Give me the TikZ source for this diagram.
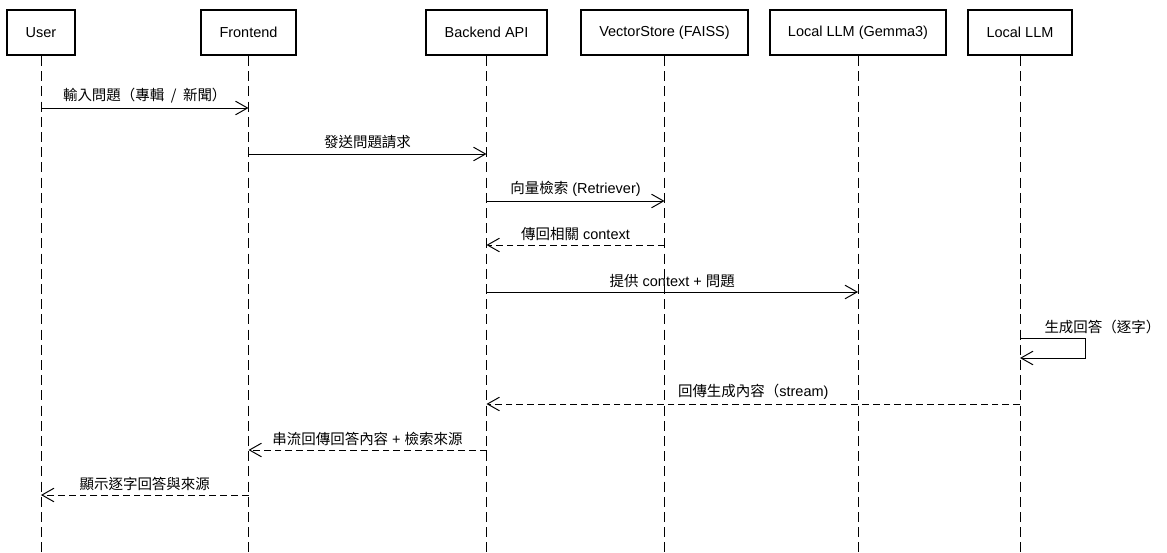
\documentclass[tikz,border=0pt]{standalone}
\usepackage{fontspec}
\setmainfont{Liberation Sans}
\newfontfamily\cjk{Noto Sans CJK TC}
\usetikzlibrary{arrows.meta,positioning}

\tikzset{
  actor/.style={draw, line width=1.5pt, minimum height=1.125cm, inner xsep=0.46cm, font=\fontsize{10.3}{12}\selectfont},
  life/.style={line width=0.7pt, dash pattern=on 0.25cm off 0.13cm},
  msg/.style={line width=0.7pt, -{Straight Barb[length=0.3cm,width=0.34cm]}},
  reply/.style={msg, dash pattern=on 0.17cm off 0.1cm},
  lbl/.style={font=\fontsize{10.3}{12}\selectfont, above, inner sep=3pt}
}

\begin{document}
\begin{tikzpicture}
        \useasboundingbox (0,0) rectangle (29.175,-13.825);
        \coordinate (bottom) at (0,-13.825);

        % Participants
        \node[actor] (user) at (1.025,-0.8125) {User};
        \node[actor] (frontend) at (6.2125,-0.8125) {Frontend};
        \node[actor] (backend) at (12.1625,-0.8125) {Backend API};
        \node[actor] (vstore) at (16.6125,-0.8125) {VectorStore (FAISS)};
        \node[actor] (gemma) at (21.45,-0.8125) {Local LLM (Gemma3)};
        \node[actor] (llm) at (25.5,-0.8125) {Local LLM};

        % Lifelines
        \foreach \n in {user,frontend,backend,vstore,gemma,llm}
          \draw[life] (\n.south) -- (\n |- bottom);

        % Message levels
        \coordinate (m1) at (0,-2.7);
        \coordinate (m2) at (0,-3.85);
        \coordinate (m3) at (0,-5.025);
        \coordinate (m4) at (0,-6.125);
        \coordinate (m5) at (0,-7.3);
        \coordinate (m6) at (0,-8.45);
        \coordinate (m6b) at (0,-8.95);
        \coordinate (m7) at (0,-10.1);
        \coordinate (m8) at (0,-11.25);
        \coordinate (m9) at (0,-12.375);

        % Messages
        \draw[msg] (user |- m1) -- node[lbl] {{\cjk 輸入問題（專輯 \ / \ 新聞）}} (frontend |- m1);
        \draw[msg] (frontend |- m2) -- node[lbl] {{\cjk 發送問題請求}} (backend |- m2);
        \draw[msg] (backend |- m3) -- node[lbl] {{\cjk 向量檢索} (Retriever)} (vstore |- m3);
        \draw[reply] (vstore |- m4) -- node[lbl] {{\cjk 傳回相關} context} (backend |- m4);
        \draw[msg] (backend |- m5) -- node[lbl] {{\cjk 提供} context + {\cjk 問題}} (gemma |- m5);

        % Self call
        \draw[msg] (llm |- m6) -- ++(1.625,0) |- (llm |- m6b);
        \node[lbl, anchor=south west] (selflbl) at ([xshift=0.5cm]llm |- m6) {{\cjk 生成回答（逐字）}};

        % Replies
        \draw[reply] (llm |- m7) -- node[lbl] {{\cjk 回傳生成內容（}stream)} (backend |- m7);
        \draw[reply] (backend |- m8) -- node[lbl] {{\cjk 串流回傳回答內容} + {\cjk 檢索來源}} (frontend |- m8);
        \draw[reply] (frontend |- m9) -- node[lbl] {{\cjk 顯示逐字回答與來源}} (user |- m9);
\end{tikzpicture}
\end{document}
